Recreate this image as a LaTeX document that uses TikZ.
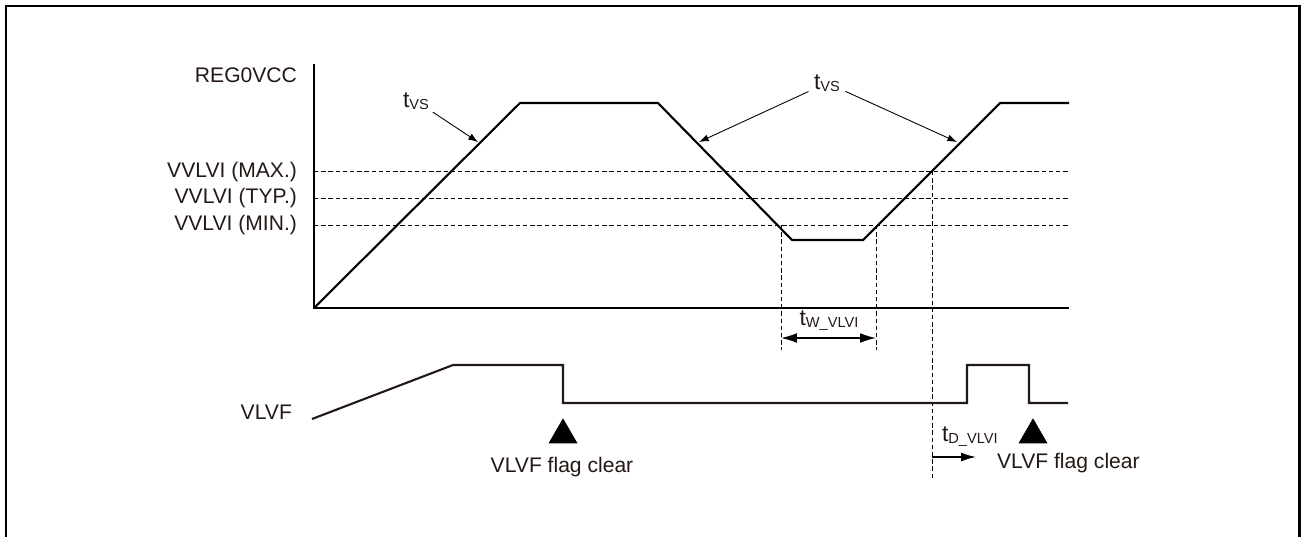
\documentclass[tikz,border=0pt]{standalone}
\usepackage{fontspec}
\setmainfont{Liberation Sans}
\usepackage{xcolor}
\definecolor{ink}{RGB}{35,24,21}
\usepackage{tikz}
\usetikzlibrary{arrows.meta, shapes.geometric}
\newcommand\lblfont{\fontsize{12}{14}\selectfont}
\newcommand\tsub[1]{{\fontsize{13}{14}\selectfont t}\raisebox{-1.4pt}{\fontsize{8.3}{9}\selectfont #1}}
\tikzset{
  frame/.style={line width=1.7pt},
  axis/.style={line width=0.7pt},
  wave/.style={line width=1.2pt, line join=miter},
  flagwave/.style={wave, draw=ink},
  guide/.style={line width=0.55pt, dash pattern=on 2.5pt off 1.6pt},
  pointer/.style={line width=0.5pt, -{Latex[length=5.5pt, width=4pt]}},
  span/.style={line width=0.7pt,
    {Latex[length=9pt, width=5.5pt]}-{Latex[length=9pt, width=5.5pt]}},
  txt/.style={font=\lblfont, text=ink, inner sep=1pt},
  clearmark/.style={regular polygon, regular polygon sides=3, fill=black,
    inner sep=0pt, minimum size=0.67cm},
}

\begin{document}
\begin{tikzpicture}[x=0.02cm, y=-0.02cm]
\useasboundingbox (0,0) rectangle (1304,537);
% frame (open at the bottom)
\draw[frame] (6,537) -- (6,6) -- (1299,6) -- (1299,537);
% axes
\coordinate (origin) at (314,308);
\draw[axis] (314,64) -- (origin) -- (1069,308);
% threshold levels
\draw[guide] (314,171) -- (1069,171);
\draw[guide] (314,198) -- (1069,198);
\draw[guide] (314,225) -- (1069,225);
\node[txt, anchor=east] (regLbl) at (299,75) {REG0VCC};
\node[txt, anchor=east] (maxLbl) at (299,172) {VVLVI (MAX.)};
\node[txt, anchor=east] (typLbl) at (299,198) {VVLVI (TYP.)};
\node[txt, anchor=east] (minLbl) at (299,225) {VVLVI (MIN.)};
% REG0VCC waveform
\coordinate (riseTop) at (520,103);
\coordinate (fallTop) at (658,103);
\coordinate (dipL) at (792,240);
\coordinate (dipR) at (863,240);
\coordinate (backTop) at (1000,103);
\draw[wave] (origin) -- (riseTop) -- (fallTop) -- (dipL) -- (dipR)
  -- (backTop) -- (1069,103);
% slope labels
\coordinate (hitA) at (478,142);
\coordinate (hitB) at (699,142);
\coordinate (hitC) at (957,142);
\node[txt, inner sep=2pt] (tvsLeft) at (416,101) {\tsub{VS}};
\node[txt, inner sep=3pt] (tvsRight) at (827,83) {\tsub{VS}};
\draw[pointer] (tvsLeft) -- (hitA);
\draw[pointer] (tvsRight) -- (hitB);
\draw[pointer] (tvsRight) -- (hitC);
% pulse width below VVLVI (MIN.)
\coordinate (wA) at (781,225);
\coordinate (wB) at (876,225);
\coordinate (wAend) at (781,350);
\coordinate (wBend) at (876,350);
\draw[guide] (wA) -- (wAend);
\draw[guide] (wB) -- (wBend);
\coordinate (wArr) at (781,338);
\coordinate (wBrr) at (876,338);
\draw[span] (wArr) -- (wBrr);
\node[txt, anchor=south] (twLbl) at (829,333) {\tsub{W\_VLVI}};
% detection delay
\coordinate (dTop) at (932,171);
\coordinate (dEnd) at (932,480);
\draw[guide] (dTop) -- (dEnd);
\coordinate (dFrom) at (932,457);
\coordinate (dTo) at (976,457);
\draw[pointer, line width=0.7pt, -{Latex[length=8.5pt, width=5pt]}] (dFrom) -- (dTo);
\node[txt, anchor=south west] (tdLbl) at (940,449) {\tsub{D\_VLVI}};
% VLVF flag
\node[txt, anchor=east] (vlvfLbl) at (294,412) {VLVF};
\draw[flagwave] (312,419) -- (453,365) -- (563,365) -- (563,403) -- (967,403)
  -- (967,365) -- (1029,365) -- (1029,403) -- (1068,403);
\node[clearmark] (markA) at (563,435) {};
\node[clearmark] (markB) at (1033,435) {};
\node[txt] (clearA) at (562,467) {VLVF flag clear};
\node[txt, anchor=west] (clearB) at (995,463) {VLVF flag clear};
\end{tikzpicture}
\end{document}
